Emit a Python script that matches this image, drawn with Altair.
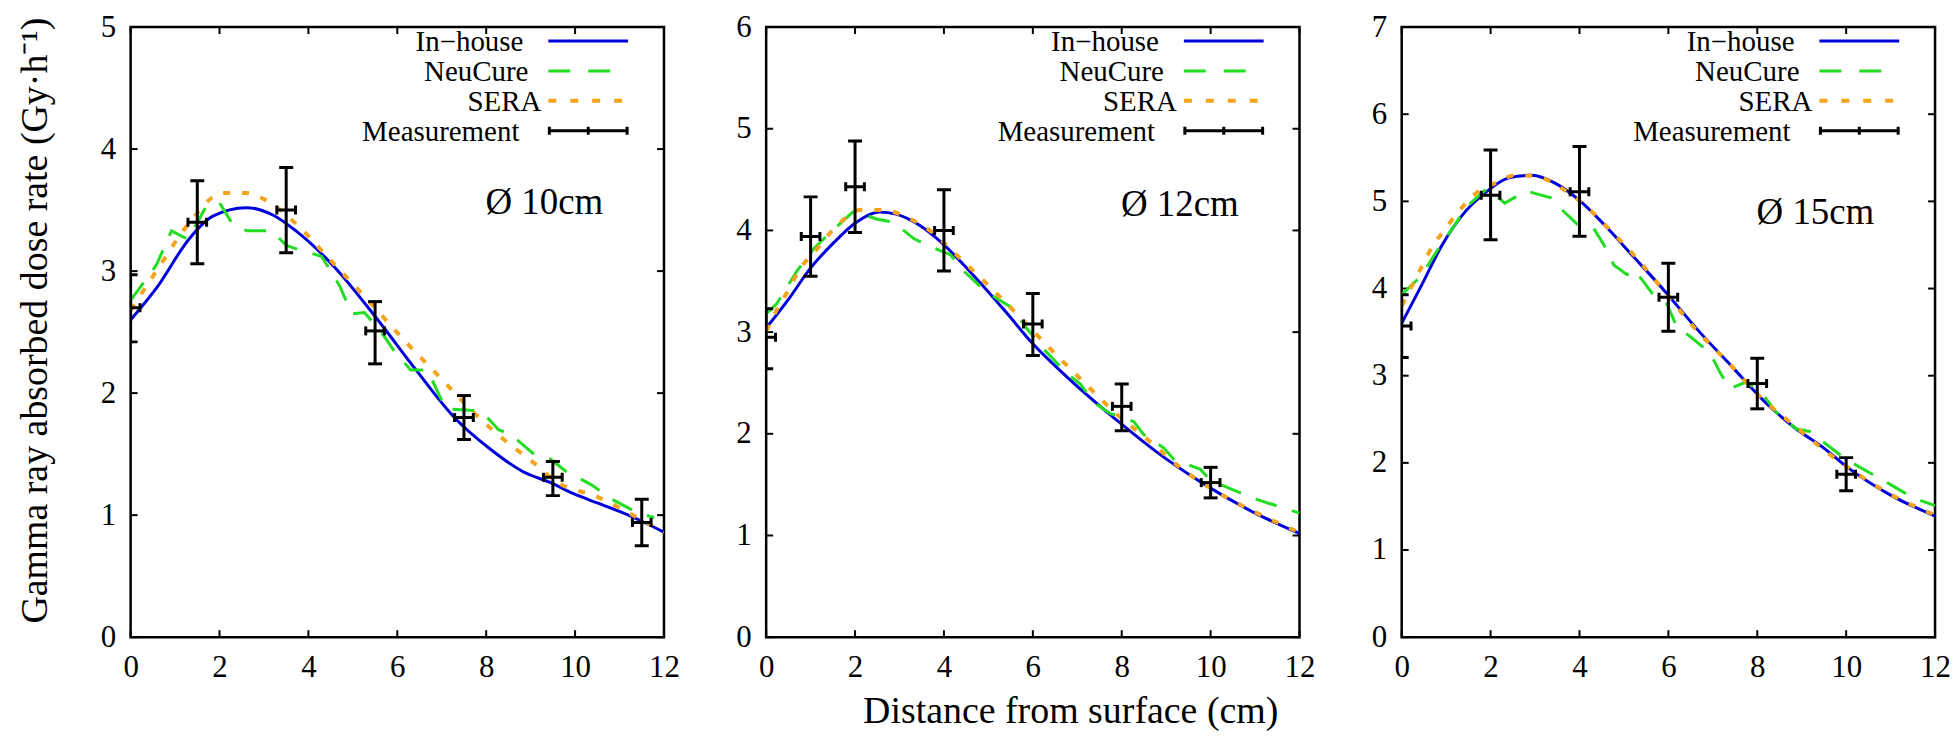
import altair as alt
import pandas as pd

FONT = "Liberation Serif, Times New Roman, serif"

# ---------------- data ----------------
x_ticks = [0, 2, 4, 6, 8, 10, 12]
y_max = [5, 6, 7]
diam_labels = ["Ø 10cm", "Ø 12cm", "Ø 15cm"]
legend_labels = ["In−house", "NeuCure", "SERA", "Measurement"]
x_title = "Distance from surface (cm)"
y_title = "Gamma ray absorbed dose rate (Gy·h⁻¹)"
meas_xerr = 0.21

# ---- Ø 10 cm ----
d10_inh_x = [0, 0.58, 1.33, 1.85, 2.6, 3.2, 3.72, 4.62, 5.52, 6.42, 7.31, 8.06, 8.81, 9.49, 9.94, 10.5, 11.0, 11.5, 12.0]
d10_inh_y = [2.60, 2.86, 3.27, 3.45, 3.52, 3.46, 3.33, 3.02, 2.62, 2.19, 1.79, 1.55, 1.36, 1.26, 1.18, 1.10, 1.03, 0.95, 0.86]
d10_neu_x = [0, 0.58, 0.92, 1.29, 1.7, 2.0, 2.3, 2.62, 3.18, 3.5, 3.75, 4.3, 4.7, 4.98, 5.26, 5.64, 5.92, 6.3, 6.68,
             6.96, 7.1, 7.62, 7.9, 8.28, 8.56, 9.04, 9.41, 9.79, 10.36, 10.83, 11.4, 11.78]
d10_neu_y = [2.76, 3.05, 3.33, 3.26, 3.53, 3.56, 3.38, 3.33, 3.33, 3.21, 3.18, 3.12, 2.88, 2.65, 2.66, 2.50, 2.35, 2.19, 2.19,
             1.97, 1.87, 1.86, 1.85, 1.70, 1.66, 1.51, 1.47, 1.36, 1.25, 1.13, 1.02, 0.98]
d10_sera_x = [0, 0.58, 1.33, 2.07, 2.6, 3.05, 3.8, 4.47, 5.22, 6.19, 7.01, 7.69, 8.43, 9.1, 9.55, 10.5, 11.5, 12.0]
d10_sera_y = [2.68, 3.00, 3.40, 3.64, 3.64, 3.58, 3.36, 3.10, 2.81, 2.42, 2.11, 1.85, 1.61, 1.42, 1.28, 1.15, 0.96, 0.86]
d10_meas_x = [0, 1.5, 3.5, 5.5, 7.5, 9.5, 11.5]
d10_meas_y = [2.70, 3.40, 3.50, 2.51, 1.80, 1.31, 0.94]
d10_meas_lo = [2.42, 3.06, 3.15, 2.24, 1.62, 1.16, 0.75]
d10_meas_hi = [2.97, 3.74, 3.85, 2.75, 1.98, 1.44, 1.13]

# ---- Ø 12 cm ----
d12_inh_x = [0, 0.53, 0.98, 1.5, 2.03, 2.55, 2.92, 3.45, 3.97, 4.64, 5.39, 5.99, 6.74, 7.49, 8.01, 8.76, 9.8, 11.0, 12.0]
d12_inh_y = [3.04, 3.34, 3.62, 3.87, 4.08, 4.18, 4.16, 4.05, 3.87, 3.57, 3.20, 2.89, 2.57, 2.28, 2.09, 1.83, 1.52, 1.22, 1.02]
d12_neu_x = [0, 0.24, 0.69, 1.07, 1.37, 1.97, 2.5, 2.87, 3.32, 3.7, 4.15, 4.37, 4.82, 5.05, 5.57, 5.8, 6.25, 6.77, 7.07,
             7.37, 7.74, 8.27, 8.5, 8.95, 9.17, 9.77, 10.0, 11.0, 12.0]
d12_neu_y = [3.18, 3.28, 3.60, 3.82, 3.95, 4.19, 4.11, 4.08, 3.92, 3.84, 3.76, 3.63, 3.45, 3.37, 3.23, 3.07, 2.83, 2.59, 2.49,
             2.31, 2.20, 2.12, 1.99, 1.86, 1.75, 1.65, 1.54, 1.36, 1.22]
d12_sera_x = [0, 0.24, 0.47, 0.77, 1.07, 1.67, 2.1, 2.63, 3.16, 3.68, 4.28, 5.02, 5.77, 6.45, 7.12, 7.87, 8.62, 9.37, 9.8, 11.0, 12.0]
d12_sera_y = [3.01, 3.22, 3.39, 3.63, 3.78, 4.08, 4.20, 4.20, 4.13, 4.00, 3.76, 3.45, 3.12, 2.81, 2.52, 2.20, 1.93, 1.65, 1.52, 1.23, 1.03]
d12_meas_x = [0, 1, 2, 4, 6, 8, 10]
d12_meas_y = [2.95, 3.94, 4.43, 4.00, 3.08, 2.27, 1.52]
d12_meas_lo = [2.64, 3.55, 3.98, 3.60, 2.77, 2.03, 1.37]
d12_meas_hi = [3.23, 4.33, 4.88, 4.40, 3.38, 2.49, 1.67]

# ---- Ø 15 cm ----
d15_inh_x = [0, 0.46, 0.91, 1.36, 1.88, 2.41, 2.93, 3.45, 3.98, 4.58, 5.17, 5.92, 6.67, 7.42, 8.17, 8.85, 9.52, 10.0, 11.0, 12.0]
d15_inh_y = [3.60, 4.05, 4.50, 4.84, 5.10, 5.27, 5.30, 5.21, 5.02, 4.72, 4.39, 3.97, 3.52, 3.11, 2.70, 2.40, 2.16, 1.96, 1.63, 1.39]
d15_neu_x = [0, 0.43, 0.88, 1.18, 1.48, 1.93, 2.32, 2.8, 3.36, 3.55, 3.95, 4.32, 4.55, 4.77, 5.07, 5.22, 5.44, 5.67, 5.97,
             6.19, 6.49, 6.94, 7.16, 7.38, 7.76, 8.13, 8.43, 8.88, 9.18, 9.56, 10.0, 11.0, 11.5, 12.0]
d15_neu_y = [3.93, 4.14, 4.50, 4.72, 4.95, 5.15, 4.98, 5.12, 5.04, 4.93, 4.74, 4.69, 4.50, 4.27, 4.16, 4.22, 4.08, 3.92, 3.82,
             3.56, 3.45, 3.26, 3.04, 2.85, 2.93, 2.78, 2.58, 2.39, 2.36, 2.21, 2.04, 1.75, 1.60, 1.51]
d15_sera_x = [0, 0.4, 0.69, 0.99, 1.29, 1.74, 2.11, 2.56, 3.01, 3.53, 4.13, 4.73, 5.32, 5.92, 6.6, 7.35, 8.1, 8.85, 9.52, 10.0, 11.0, 12.0]
d15_sera_y = [3.80, 4.20, 4.48, 4.69, 4.89, 5.12, 5.21, 5.30, 5.29, 5.17, 4.95, 4.65, 4.33, 3.96, 3.54, 3.15, 2.74, 2.42, 2.14, 1.96, 1.64, 1.40]
d15_meas_x = [0, 2, 4, 6, 8, 10]
d15_meas_y = [3.57, 5.07, 5.11, 3.90, 2.91, 1.87]
d15_meas_lo = [3.21, 4.56, 4.60, 3.51, 2.62, 1.68]
d15_meas_hi = [3.93, 5.59, 5.63, 4.29, 3.20, 2.06]

# ---------------- style ----------------
W, H = 535, 612
C_INH = "#0000dd"
C_NEU = "#22dd22"
C_SERA = "#f5a31a"
C_MEAS = "black"
LEG_TEXT_X = [394, 399, 412, 390]
LEG_Y = [14, 44, 74, 104]
LEG_X0, LEG_X1 = 419, 499
DIAM_POS = [(415, 177), (415, 179), (415, 187)]
LBL = dict(labelFont=FONT, labelFontSize=31, labelColor="black", labelPadding=15,
           titleFont=FONT, titleFontSize=38, titleFontWeight="normal", titleColor="black",
           grid=False, domain=False, ticks=False, tickSize=0)


def panel(i, inh, neu, sera, meas):
    ymax = y_max[i]
    y_vals = list(range(ymax + 1))
    if i == 1:
        xaxis = alt.Axis(values=x_ticks, labelFlush=False, titleX=305, titleY=86,
                         titleBaseline="alphabetic", titleAlign="center", **LBL)
        xt = x_title
    else:
        xaxis = alt.Axis(values=x_ticks, labelFlush=False, **LBL)
        xt = None
    if i == 0:
        yaxis = alt.Axis(values=y_vals, titleAngle=270, titleX=-84, titleY=294,
                         titleBaseline="alphabetic", titleAlign="center", **LBL)
        yt = y_title
    else:
        yaxis = alt.Axis(values=y_vals, **LBL)
        yt = None
    xs = alt.Scale(domain=[0, 12], nice=False, zero=False)
    ys = alt.Scale(domain=[0, ymax], nice=False, zero=True)

    def X(f):
        return alt.X(f, type="quantitative", scale=xs, axis=xaxis, title=xt)

    def Y(f):
        return alt.Y(f, type="quantitative", scale=ys, axis=yaxis, title=yt)

    layers = []
    # frame ticks (inward)
    xtdf = pd.DataFrame({"v": x_ticks})
    ytdf = pd.DataFrame({"v": y_vals})
    layers.append(alt.Chart(xtdf).mark_rule(color="black", strokeWidth=2).encode(
        x=X("v"), y=alt.value(0), y2=alt.value(7)))
    layers.append(alt.Chart(xtdf).mark_rule(color="black", strokeWidth=2).encode(
        x=X("v"), y=alt.value(H), y2=alt.value(H - 7)))
    layers.append(alt.Chart(ytdf).mark_rule(color="black", strokeWidth=2).encode(
        y=Y("v"), x=alt.value(0), x2=alt.value(7)))
    layers.append(alt.Chart(ytdf).mark_rule(color="black", strokeWidth=2).encode(
        y=Y("v"), x=alt.value(W), x2=alt.value(W - 7)))

    def line(xy, color, width, dash, interp):
        df = pd.DataFrame({"x": xy[0], "y": xy[1]})
        kw = dict(color=color, strokeWidth=width, clip=True, interpolate=interp)
        if dash:
            kw["strokeDash"] = dash
        return alt.Chart(df).mark_line(**kw).encode(x=X("x"), y=Y("y"))

    layers.append(line(inh, C_INH, 3, None, "monotone"))
    layers.append(line(neu, C_NEU, 3, [22, 16], "linear"))
    layers.append(line(sera, C_SERA, 4, [7, 12], "monotone"))

    mdf = pd.DataFrame({"x": meas[0], "y": meas[1], "lo": meas[2], "hi": meas[3]})
    mdf["xlo"] = mdf["x"] - meas_xerr
    mdf["xhi"] = mdf["x"] + meas_xerr
    mb = alt.Chart(mdf)
    layers.append(mb.mark_rule(color=C_MEAS, strokeWidth=3, clip=True).encode(
        x=X("x"), y=Y("lo"), y2="hi"))
    layers.append(mb.mark_rule(color=C_MEAS, strokeWidth=3, clip=True).encode(
        x=X("xlo"), x2="xhi", y=Y("y")))
    for f in ["lo", "hi"]:
        layers.append(mb.mark_tick(color=C_MEAS, orient="horizontal", size=14, thickness=3,
                                   opacity=1, clip=True).encode(x=X("x"), y=Y(f)))
    for f in ["xlo", "xhi"]:
        layers.append(mb.mark_tick(color=C_MEAS, orient="vertical", size=9, thickness=3,
                                   opacity=1, clip=True).encode(x=X(f), y=Y("y")))

    # in-plot key
    styles = [(C_INH, 3, None), (C_NEU, 3, [22, 18]), (C_SERA, 4, [8, 14]), (C_MEAS, 3, None)]
    for k, lab in enumerate(legend_labels):
        ldf = pd.DataFrame({"t": [lab]})
        layers.append(alt.Chart(ldf).mark_text(font=FONT, fontSize=29, align="right", baseline="middle",
                                               color="black").encode(
            text="t:N", x=alt.value(LEG_TEXT_X[k]), y=alt.value(LEG_Y[k] + 1)))
        col, sw, dash = styles[k]
        kw = dict(color=col, strokeWidth=sw)
        if dash:
            kw["strokeDash"] = dash
        layers.append(alt.Chart(ldf).mark_rule(**kw).encode(
            x=alt.value(LEG_X0), x2=alt.value(LEG_X1), y=alt.value(LEG_Y[k])))
    for cx in [LEG_X0 + 1, (LEG_X0 + LEG_X1) / 2, LEG_X1 - 1]:
        layers.append(alt.Chart(pd.DataFrame({"t": [legend_labels[3]]})).mark_rule(
            color=C_MEAS, strokeWidth=3).encode(
            x=alt.value(cx), y=alt.value(LEG_Y[3] - 4), y2=alt.value(LEG_Y[3] + 4)))

    # diameter annotation
    ddf = pd.DataFrame({"t": [diam_labels[i]]})
    layers.append(alt.Chart(ddf).mark_text(font=FONT, fontSize=37, align="center", baseline="middle",
                                           color="black").encode(
        text="t:N", x=alt.value(DIAM_POS[i][0]), y=alt.value(DIAM_POS[i][1])))

    return alt.layer(*layers).properties(width=W, height=H)


p1 = panel(0, (d10_inh_x, d10_inh_y), (d10_neu_x, d10_neu_y), (d10_sera_x, d10_sera_y),
           (d10_meas_x, d10_meas_y, d10_meas_lo, d10_meas_hi))
p2 = panel(1, (d12_inh_x, d12_inh_y), (d12_neu_x, d12_neu_y), (d12_sera_x, d12_sera_y),
           (d12_meas_x, d12_meas_y, d12_meas_lo, d12_meas_hi))
p3 = panel(2, (d15_inh_x, d15_inh_y), (d15_neu_x, d15_neu_y), (d15_sera_x, d15_sera_y),
           (d15_meas_x, d15_meas_y, d15_meas_lo, d15_meas_hi))

chart = alt.hconcat(p1, p2, p3, spacing=102.5, bounds="flush").configure_view(
    stroke="black", strokeWidth=2.5
).configure_axis(**LBL).properties(
    padding={"left": 7, "top": 0, "right": 0, "bottom": -2},
    background="white"
)

chart.save("out.html", embed_options={"renderer": "svg", "actions": False})
